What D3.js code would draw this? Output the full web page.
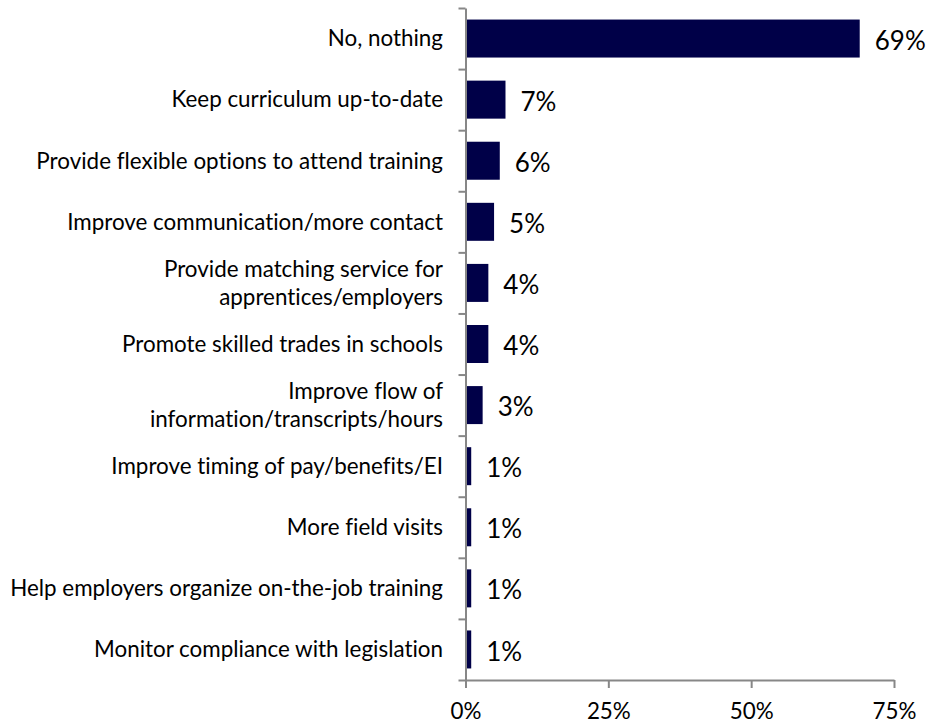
<!DOCTYPE html>
<html>
<head>
<meta charset="utf-8">
<script src="https://cdn.jsdelivr.net/npm/d3@7"></script>
<style>
  html, body { margin: 0; padding: 0; background: #fff; }
  svg { display: block; }
  text { font-family: Lato, "Open Sans", sans-serif; fill: #000; font-variant-ligatures: none; font-feature-settings: "liga" 0, "clig" 0; }
</style>
</head>
<body>
<svg id="chart" width="929" height="723"></svg>
<script>
const categories = [
  ["No, nothing"],
  ["Keep curriculum up-to-date"],
  ["Provide flexible options to attend training"],
  ["Improve communication/more contact"],
  ["Provide matching service for", "apprentices/employers"],
  ["Promote skilled trades in schools"],
  ["Improve flow of", "information/transcripts/hours"],
  ["Improve timing of pay/benefits/EI"],
  ["More field visits"],
  ["Help employers organize on-the-job training"],
  ["Monitor compliance with legislation"]
];
const values = [69, 7, 6, 5, 4, 4, 3, 1, 1, 1, 1];
const xTicks = [0, 25, 50, 75];

(function () {
const svg = d3.select("#chart");
const mLeft = 465.5, mRight = 894, mTop = 8, mBottom = 680;
const barColor = "#000048";
const axisColor = "#878787";
const catFont = 22.4, valFont = 26;

const keys = categories.map(c => c.join(" "));
const x = d3.scaleLinear().domain([0, 75]).range([mLeft, mRight]);
const y = d3.scaleBand().domain(keys).range([mTop, mBottom])
  .paddingInner(0.378).paddingOuter(0.189);
const yIdx = d3.scaleLinear().domain([0, keys.length]).range([mTop, mBottom]);

// bars
svg.append("g").selectAll("rect").data(values).join("rect")
  .attr("x", x(0))
  .attr("y", (d, i) => y(keys[i]))
  .attr("width", d => x(d) - x(0))
  .attr("height", y.bandwidth())
  .attr("fill", barColor);

// left axis (ticks at band boundaries)
const gl = svg.append("g").attr("transform", `translate(${mLeft},0)`)
  .call(d3.axisLeft(yIdx).tickValues(d3.range(keys.length + 1)).tickSize(7).tickSizeOuter(0).tickFormat(""));
gl.selectAll("path, line").attr("stroke", axisColor).attr("stroke-width", 2);

// bottom axis
const gb = svg.append("g").attr("transform", `translate(0,${mBottom})`)
  .call(d3.axisBottom(x).tickValues(xTicks).tickSize(8).tickSizeOuter(0).tickPadding(15).tickFormat(d => d + "%"));
gb.selectAll("path, line").attr("stroke", axisColor).attr("stroke-width", 2);
gb.selectAll("text").style("font-size", catFont + "px").attr("fill", "#000");

// category labels
const lineGap = 28;
svg.append("g").selectAll("text").data(categories).join("text")
  .attr("text-anchor", "end")
  .style("font-size", catFont + "px")
  .each(function(lines, i) {
    const cy = y(keys[i]) + y.bandwidth() / 2;
    const t = d3.select(this);
    lines.forEach((ln, j) => {
      t.append("tspan")
        .attr("x", 443)
        .attr("y", cy + (j - (lines.length - 1) / 2) * lineGap)
        .attr("dy", "0.35em")
        .text(ln);
    });
  });

// value labels
svg.append("g").selectAll("text").data(values).join("text")
  .attr("x", d => x(d) + 15)
  .attr("y", (d, i) => y(keys[i]) + y.bandwidth() / 2 + 2)
  .attr("dy", "0.35em")
  .style("font-size", valFont + "px")
  .text(d => d + "%");
})();
</script>
</body>
</html>
